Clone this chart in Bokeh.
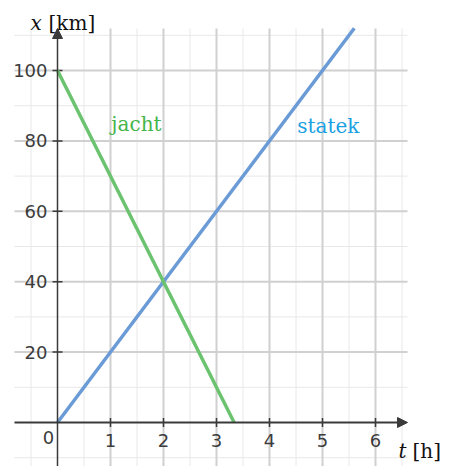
from bokeh.plotting import figure
from bokeh.models import Arrow, NormalHead
from bokeh.core.properties import value
from bokeh.embed import file_html
from bokeh.resources import INLINE
import numpy as np

# ---- data ----
statek_t = [0, 5.6]
statek_x = [0, 112]
jacht_t = [0, 3.333]
jacht_x = [100, 0]

x_ticks = [1, 2, 3, 4, 5, 6]
x_tick_labels = ["1", "2", "3", "4", "5", "6"]
y_ticks = [20, 40, 60, 80, 100]
y_tick_labels = ["20", "40", "60", "80", "100"]

# ---- layout constants ----
W, H = 443, 466
PX_T = 53.0   # px per hour
PX_K = 3.52   # px per km
X0, Y0 = 57.0, 422.0  # canvas px of origin
xr = (-X0 / PX_T, (W - X0) / PX_T)
yr = ((Y0 - H) / PX_K, Y0 / PX_K)
g_left, g_right = (14 - X0) / PX_T, (407 - X0) / PX_T
g_bottom, g_top = (Y0 - 466) / PX_K, (Y0 - 28) / PX_K

p = figure(width=W, height=H, x_range=xr, y_range=yr,
           x_axis_location=None, y_axis_location=None,
           toolbar_location=None, output_backend="svg",
           min_border=0, outline_line_color=None)
p.xgrid.visible = False
p.ygrid.visible = False

# grid
minor_v = [v for v in np.arange(-0.5, 6.51, 0.5) if v % 1 != 0]
major_v = [v for v in range(1, 7)]
minor_h = [v for v in range(-10, 111, 10) if v % 20 != 0]
major_h = [v for v in range(20, 101, 20)]

p.segment(x0=minor_v, x1=minor_v, y0=g_bottom, y1=g_top, line_color="#e8e8e8", line_width=1)
p.segment(x0=g_left, x1=g_right, y0=minor_h, y1=minor_h, line_color="#e8e8e8", line_width=1)
p.segment(x0=major_v, x1=major_v, y0=g_bottom, y1=g_top, line_color="#d0d0d0", line_width=2)
p.segment(x0=g_left, x1=g_right, y0=major_h, y1=major_h, line_color="#d0d0d0", line_width=2)

# axes with arrows
axis_col = "#3a3a3a"
p.add_layout(Arrow(x_start=g_left, y_start=0, x_end=g_right, y_end=0,
                   line_color=axis_col, line_width=2,
                   end=NormalHead(size=10, fill_color=axis_col, line_color=axis_col)))
p.add_layout(Arrow(x_start=0, y_start=g_bottom, x_end=0, y_end=g_top,
                   line_color=axis_col, line_width=1.5,
                   end=NormalHead(size=10, fill_color=axis_col, line_color=axis_col)))

# tick marks
tl_t = 4.5 / PX_K
tl_x = 5.0 / PX_T
p.segment(x0=x_ticks, x1=x_ticks, y0=-tl_t, y1=tl_t, line_color=axis_col, line_width=1.5)
p.segment(x0=-tl_x, x1=tl_x, y0=y_ticks, y1=y_ticks, line_color=axis_col, line_width=1.5)

# tick labels
lab_col = "#3c3c3c"
p.text(x=x_ticks, y=[0] * len(x_ticks), text=x_tick_labels, y_offset=18,
       text_align="center", text_baseline="middle", text_font=value("DejaVu Sans"),
       text_font_size="18px", text_color=lab_col)
p.text(x=[0] * len(y_ticks), y=y_ticks, text=y_tick_labels, x_offset=-10,
       text_align="right", text_baseline="middle", text_font=value("DejaVu Sans"),
       text_font_size="18px", text_color=lab_col)
p.text(x=[0], y=[0], text=["0"], x_offset=-9, y_offset=15,
       text_align="center", text_baseline="middle", text_font=value("DejaVu Sans"),
       text_font_size="18px", text_color=lab_col)

# data lines
p.line(statek_t, statek_x, line_color="#6a9bd6", line_width=3.5)
p.line(jacht_t, jacht_x, line_color="#6cc36f", line_width=3.5)

# series labels
p.text(x=[1.49], y=[84.7], text=["jacht"], text_align="center", text_baseline="middle",
       text_font=value("DejaVu Serif"), text_font_size="20px", text_color="#44b54a")
p.text(x=[5.11], y=[84.3], text=["statek"], text_align="center", text_baseline="middle",
       text_font=value("DejaVu Serif"), text_font_size="20px", text_color="#1ba1e2")

# axis titles
p.text(x=[0], y=[g_top], text=["x"], x_offset=-27, y_offset=-6, text_align="left",
       text_baseline="alphabetic", text_font=value("DejaVu Serif"), text_font_style="italic",
       text_font_size="20px", text_color="#111111")
p.text(x=[0], y=[g_top], text=["[km]"], x_offset=-9, y_offset=-6, text_align="left",
       text_baseline="alphabetic", text_font=value("DejaVu Serif"),
       text_font_size="20px", text_color="#111111")
p.text(x=[g_right], y=[0], text=["t"], x_offset=-9, y_offset=28, text_align="left",
       text_baseline="alphabetic", text_font=value("DejaVu Serif"), text_font_style="italic",
       text_font_size="20px", text_color="#111111")
p.text(x=[g_right], y=[0], text=["[h]"], x_offset=5, y_offset=28, text_align="left",
       text_baseline="alphabetic", text_font=value("DejaVu Serif"),
       text_font_size="20px", text_color="#111111")

open("out.html", "w").write(file_html(p, INLINE))
